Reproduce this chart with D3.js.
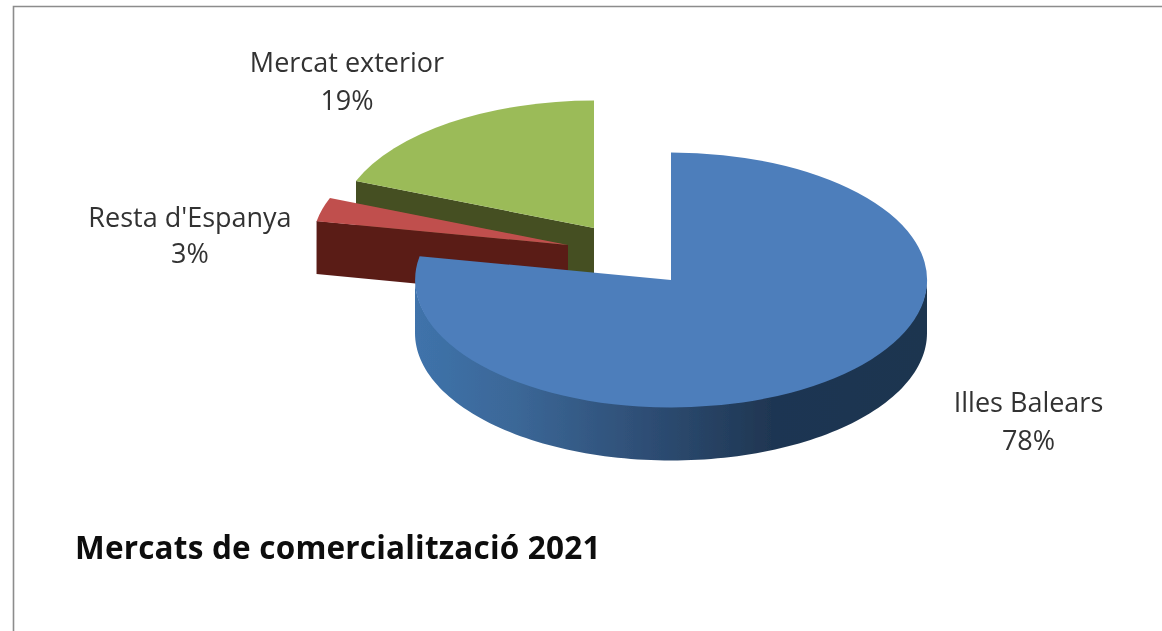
<!DOCTYPE html>
<html><head><meta charset="utf-8">
<script src="https://cdn.jsdelivr.net/npm/d3@7"></script>
<style>html,body{margin:0;padding:0;background:#fff;overflow:hidden}svg{display:block}</style>
</head><body><svg id="c" width="1162" height="631"></svg>
<script>
const categories = ["Illes Balears", "Resta d'Espanya", "Mercat exterior"];
const shares = [78, 3, 19];
const chartTitle = "Mercats de comercialització 2021";

const topColors = ["#4d7ebb", "#c0504d", "#9bbb59"];
const wallColors = ["#3f6ea6", "#5a1b19", "#444f22"];
const centers = [[671, 280], [568, 245], [594, 228]];
const labelPos = [[1028.5, 412], [190, 227], [347, 72]];
const labelLine = [38, 36, 38];
const RX = 256, RY = 127.5, DEPTH = 53;
const FONT = "'Open Sans', sans-serif";

const svg = d3.select("#c");
const defs = svg.append("defs");
defs.append("filter").attr("id", "soft").append("feGaussianBlur").attr("stdDeviation", 0.35);
const root = svg.append("g").attr("filter", "url(#soft)");
root.append("rect").attr("width", 1162).attr("height", 631).attr("fill", "#fff");
root.append("path").attr("d", "M13.5 640V6.5H1170").attr("fill", "none").attr("stroke", "#8c8c8c").attr("stroke-width", 1.6);

const grad = defs.append("linearGradient").attr("id", "rim").attr("gradientUnits", "userSpaceOnUse")
  .attr("x1", 414).attr("x2", 926).attr("y1", 0).attr("y2", 0);
[[0, "#3f73ab"], [0.2, "#3b6797"], [0.45, "#2e4e75"], [0.7, "#1f3652"], [1, "#1d3550"]]
  .forEach(([o, c]) => grad.append("stop").attr("offset", o).attr("stop-color", c));

const pie = d3.pie().sort(null).value(d => d)(shares);
const unitArc = d3.arc().innerRadius(0).outerRadius(1);
const line = d3.line();
const onRim = (a, c, dy = 0) => [c[0] + RX * Math.sin(a), c[1] - RY * Math.cos(a) + dy];

// back slices first, so the blue slice overlaps them
d3.range(pie.length - 1, -1, -1).forEach(i => {
  const s = pie[i], c = centers[i], g = root.append("g");
  // outer rim, only the part facing the viewer (tucked slightly under the top face)
  const from = Math.max(s.startAngle, Math.PI / 2), to = Math.min(s.endAngle, 3 * Math.PI / 2);
  if (from < to) {
    const as = d3.range(0, 121).map(k => from + (to - from) * k / 120);
    const pts = as.map(a => onRim(a, c, -1.5)).concat(as.slice().reverse().map(a => onRim(a, c, DEPTH)));
    g.append("path").attr("d", line(pts) + "Z").attr("fill", "url(#rim)");
  }
  // radial cut face
  if (s.startAngle > Math.PI) {
    const e = onRim(s.startAngle, c);
    g.append("path").attr("d", line([c, e, [e[0], e[1] + DEPTH], [c[0], c[1] + DEPTH]]) + "Z").attr("fill", wallColors[i]);
  }
  // top face
  g.append("path").attr("d", unitArc(s))
    .attr("transform", `translate(${c[0]},${c[1]}) scale(${RX},${RY})`)
    .attr("fill", topColors[i]);
});

categories.forEach((name, i) => {
  const t = root.append("text").attr("text-anchor", "middle").attr("font-family", FONT)
    .attr("font-size", 27).attr("fill", "#333");
  t.append("tspan").attr("x", labelPos[i][0]).attr("y", labelPos[i][1]).text(name);
  t.append("tspan").attr("x", labelPos[i][0]).attr("y", labelPos[i][1] + labelLine[i]).text(shares[i] + "%");
});

root.append("text").attr("x", 75).attr("y", 559).attr("font-family", FONT).attr("font-weight", 700)
  .attr("font-size", 31.5).attr("letter-spacing", 0.2).attr("fill", "#0d0d0d").text(chartTitle);
</script></body></html>
